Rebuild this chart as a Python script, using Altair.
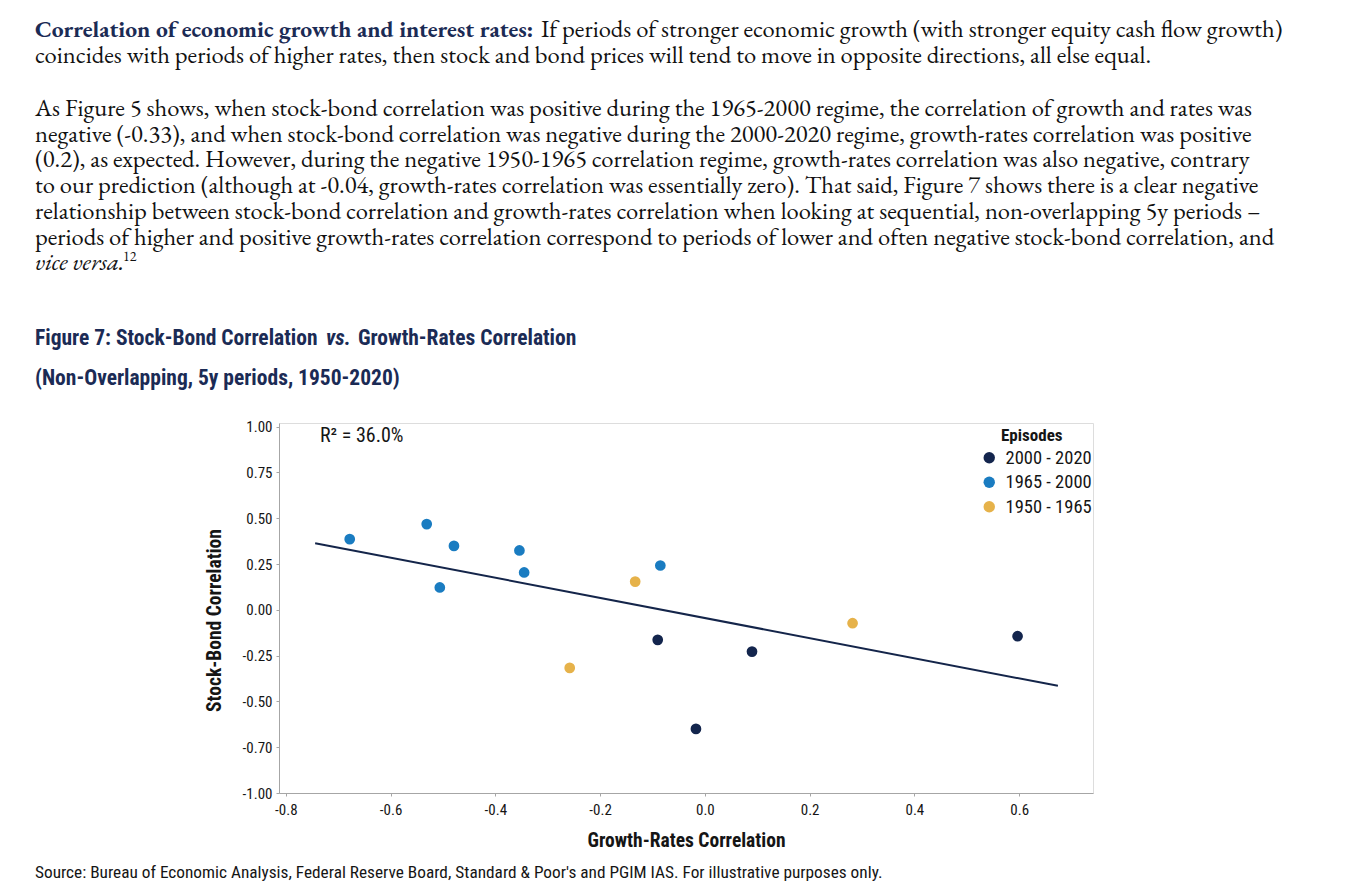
import altair as alt
import pandas as pd

# ---------------- data ----------------
growth_rates = [-0.678, -0.531, -0.479, -0.506, -0.354, -0.345, -0.085,
                -0.133, -0.258, 0.282,
                -0.090, 0.090, -0.017, 0.597]
stock_bond = [0.386, 0.468, 0.349, 0.122, 0.324, 0.204, 0.242,
              0.154, -0.317, -0.073,
              -0.164, -0.228, -0.650, -0.144]
episode = ["1965 - 2000", "1965 - 2000", "1965 - 2000", "1965 - 2000",
           "1965 - 2000", "1965 - 2000", "1965 - 2000",
           "1950 - 1965", "1950 - 1965", "1950 - 1965",
           "2000 - 2020", "2000 - 2020", "2000 - 2020", "2000 - 2020"]
episode_order = ["2000 - 2020", "1965 - 2000", "1950 - 1965"]
episode_colors = ["#13254d", "#1a7cc1", "#e6b24a"]

trend_x = [-0.744, 0.674]
trend_y = [0.364, -0.415]

x_ticks = [-0.8, -0.6, -0.4, -0.2, 0.0, 0.2, 0.4, 0.6]
y_ticks = [-1.0, -0.75, -0.5, -0.25, 0.0, 0.25, 0.5, 0.75, 1.0]

r2_label = "R\u00b2 = 36.0%"
legend_title = "Episodes"

p1_bold = "Correlation of economic growth and interest rates:"
p1_rest = "If periods of stronger economic growth (with stronger equity cash flow growth)"
p1_line2 = "coincides with periods of higher rates, then stock and bond prices will tend to move in opposite directions, all else equal."
p2_lines = [
    "As Figure 5 shows, when stock-bond correlation was positive during the 1965-2000 regime, the correlation of growth and rates was",
    "negative (-0.33), and when stock-bond correlation was negative during the 2000-2020 regime, growth-rates correlation was positive",
    "(0.2), as expected. However, during the negative 1950-1965 correlation regime, growth-rates correlation was also negative, contrary",
    "to our prediction (although at -0.04, growth-rates correlation was essentially zero). That said, Figure 7 shows there is a clear negative",
    "relationship between stock-bond correlation and growth-rates correlation when looking at sequential, non-overlapping 5y periods \u2013",
    "periods of higher and positive growth-rates correlation correspond to periods of lower and often negative stock-bond correlation, and",
]
p2_italic = "vice versa."
p2_note = "12"
title_a = "Figure 7: Stock-Bond Correlation"
title_b = "vs."
title_c = "Growth-Rates Correlation"
title_line2 = "(Non-Overlapping, 5y periods, 1950-2020)"
source_text = "Source: Bureau of Economic Analysis, Federal Reserve Board, Standard & Poor's and PGIM IAS. For illustrative purposes only."

COND = "Roboto Condensed, DejaVu Sans Condensed, sans-serif"
SERIF = "EB Garamond, Liberation Serif, Times New Roman, serif"
NAVY = "#1b2b55"
INK = "#151515"

pts = pd.DataFrame({"gr": growth_rates, "sb": stock_bond, "ep": episode})
trend = pd.DataFrame({"gr": trend_x, "sb": trend_y})

xs = alt.Scale(domain=[-0.813, 0.741], nice=False, zero=False)
ys = alt.Scale(domain=[-1.0, 1.02], nice=False, zero=False)

x_axis = alt.Axis(values=x_ticks, labelExpr="replace(format(datum.value, '.1f'), '\u2212', '-')",
                  grid=False, domainColor="#a6a6a6", tickColor="#a6a6a6", tickSize=3,
                  labelFont=COND, labelFontSize=15, labelColor=INK, labelPadding=6,
                  title="Growth-Rates Correlation", titleFont=COND, titleFontSize=19.5,
                  titleFontWeight="bold", titleColor=INK, titlePadding=14)
y_axis = alt.Axis(values=y_ticks,
                  labelExpr="datum.value == -0.75 ? '-0.70' : replace(format(datum.value, '.2f'), '\u2212', '-')",
                  grid=False, domainColor="#a6a6a6", tickColor="#a6a6a6", tickSize=3,
                  labelFont=COND, labelFontSize=15, labelColor=INK, labelPadding=4,
                  title="Stock-Bond Correlation", titleFont=COND, titleFontSize=19.5,
                  titleFontWeight="bold", titleColor=INK, titlePadding=18, titleY=197)

line = alt.Chart(trend).mark_line(color="#14254a", strokeWidth=2).encode(
    x=alt.X("gr:Q", scale=xs, axis=x_axis),
    y=alt.Y("sb:Q", scale=ys, axis=y_axis),
)

points = alt.Chart(pts).mark_circle(size=115, opacity=1).encode(
    x=alt.X("gr:Q", scale=xs),
    y=alt.Y("sb:Q", scale=ys),
    color=alt.Color("ep:N", scale=alt.Scale(domain=episode_order, range=episode_colors),
                    sort=episode_order,
                    legend=alt.Legend(title=None, orient="none", legendX=701, legendY=25.5,
                                      labelFont=COND, labelFontSize=18.5,
                                      labelColor=INK, symbolType="circle", symbolSize=130,
                                      rowPadding=5.5, symbolStrokeWidth=0, labelOffset=7)),
)


def txt(s, x, y, font, size, weight="normal", style="normal", color=INK, baseline="alphabetic",
        line_height=None):
    kw = dict(align="left", baseline=baseline, font=font, fontSize=size, fontWeight=weight,
              fontStyle=style, color=color)
    if line_height is not None:
        kw["lineBreak"] = "\n"
        kw["lineHeight"] = line_height
    return alt.Chart(pd.DataFrame({"t": [s]})).mark_text(**kw).encode(
        text="t:N", x=alt.value(x), y=alt.value(y))


# plot origin is page (279, 423)
texts = [
    txt(p1_bold, -244, -386.5, SERIF, 23.5, weight="bold", color=NAVY),
    txt(p1_rest, 262, -386.5, SERIF, 24.6, color="#111111"),
    txt(p1_line2, -244, -360, SERIF, 24.6, color="#111111"),
    txt("\n".join(p2_lines), -244, -307, SERIF, 24.6, line_height=25.7, color="#111111"),
    txt(p2_italic, -244, -153, SERIF, 24.6, style="italic", color="#111111"),
    txt(p2_note, -156, -162, SERIF, 14, color="#111111"),
    txt(title_a, -244, -78, COND, 21.5, weight="bold", color=NAVY),
    txt(title_b, 47, -78, COND, 21.5, weight="bold", style="italic", color=NAVY),
    txt(title_c, 79, -78, COND, 21.5, weight="bold", color=NAVY),
    txt(title_line2, -244, -38, COND, 21.5, weight="bold", color=NAVY),
    txt(r2_label, 41, 13, COND, 20, baseline="middle"),
    txt(legend_title, 722, 18, COND, 17, weight="bold"),
    txt(source_text, -244, 450, COND, 17.3, baseline="middle"),
]

chart = alt.layer(line, points, *texts).properties(
    width=814, height=370,
    padding={"left": 271, "top": 415, "right": 230, "bottom": 90},
    autosize=alt.AutoSizeParams(type="none"),
).configure_view(stroke=None).configure(background="white")

chart.save("out.html", embed_options={"renderer": "svg", "actions": False})
